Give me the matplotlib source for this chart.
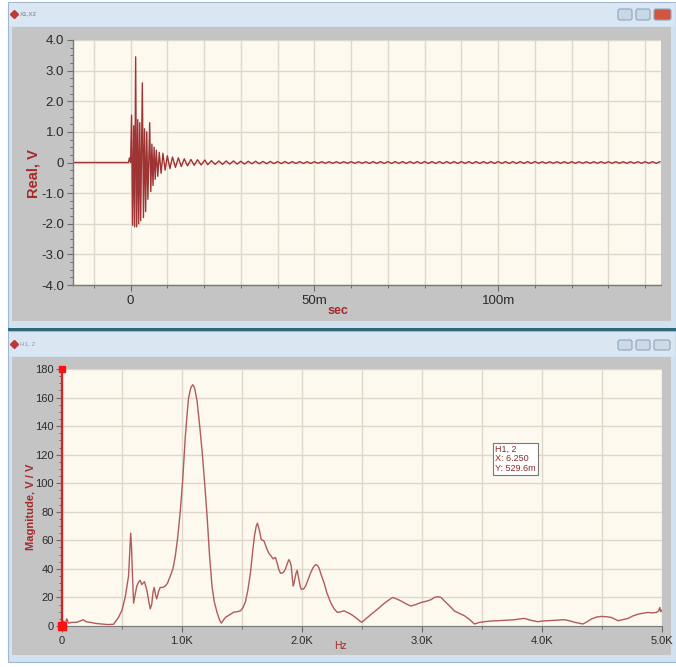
import matplotlib
matplotlib.use("Agg")
import matplotlib.pyplot as plt
from matplotlib.patches import Rectangle, FancyBboxPatch
from matplotlib.ticker import FixedLocator, MultipleLocator

plt.rcParams['font.family'] = ['Liberation Sans', 'DejaVu Sans']

# ---------------- data: top panel (time signal, ms / V) ----------------
burst_t = [-15.8, -0.6, -0.3, 0.0, 0.27, 0.55, 0.85, 1.1, 1.38, 1.65, 1.95, 2.2, 2.5,
           2.75, 3.2, 3.5, 3.8, 4.1, 4.4, 4.7, 5.2, 5.5, 5.8, 6.1, 6.4, 6.7, 7.0, 7.4,
           7.8, 8.3, 8.8, 9.4, 10.0, 10.7, 11.4, 12.2, 13.0, 13.8, 14.6, 15.5, 16.4,
           17.3, 18.2, 19.2, 20.2]
burst_v = [0.0, 0.0, 0.15, 0.0, 1.55, -2.05, 1.2, -2.1, 3.45, -2.1, 1.4, -2.0, 1.3,
           -1.9, 2.6, -1.8, 1.1, -1.6, 1.0, -1.2, 1.3, -0.95, 0.6, -0.75, 0.5, -0.55,
           0.4, -0.45, 0.33, -0.35, 0.3, -0.25, 0.22, -0.2, 0.18, -0.16, 0.15, -0.13,
           0.12, -0.11, 0.1, -0.09, 0.09, -0.08, 0.08]
tail_t0 = 21.0   # ms, tail samples every 1 ms
tail_v = [
    -0.07, 0.06, -0.06, 0.05, -0.06, 0.05, -0.05, 0.05, -0.05, 0.04,
    -0.05, 0.04, -0.04, 0.04, -0.04, 0.035, -0.04, 0.035, -0.035, 0.03,
    -0.035, 0.03, -0.03, 0.03, -0.03, 0.03, -0.03, 0.025, -0.03, 0.025,
    -0.025, 0.025, -0.025, 0.025, -0.025, 0.025, -0.025, 0.025, -0.025, 0.025,
    -0.025, 0.025, -0.025, 0.025, -0.03, 0.03, -0.03, 0.03, -0.03, 0.03,
    -0.03, 0.03, -0.03, 0.03, -0.03, 0.03, -0.03, 0.03, -0.03, 0.03,
    -0.03, 0.03, -0.03, 0.03, -0.03, 0.03, -0.03, 0.03, -0.03, 0.03,
    -0.03, 0.03, -0.03, 0.03, -0.03, 0.03, -0.03, 0.03, -0.03, 0.03,
    -0.03, 0.03, -0.03, 0.03, -0.03, 0.03, -0.03, 0.03, -0.03, 0.03,
    -0.025, 0.025, -0.025, 0.025, -0.025, 0.025, -0.025, 0.025, -0.025, 0.025,
    -0.025, 0.025, -0.025, 0.025, -0.025, 0.025, -0.025, 0.025, -0.025, 0.025,
    -0.025, 0.025, -0.025, 0.025, -0.025, 0.025, -0.025, 0.025, -0.025, 0.025,
    -0.025, 0.025, -0.025, 0.025,
]
top_xticks_ms = [0, 50, 100]
top_xticklabels = ["0", "50m", "100m"]
top_yticks = [4, 3, 2, 1, 0, -1, -2, -3, -4]
top_yticklabels = ["4.0", "3.0", "2.0", "1.0", "0", "-1.0", "-2.0", "-3.0", "-4.0"]

# ---------------- data: bottom panel (spectrum, Hz / V/V) ----------------
freq = [0, 15, 25, 40, 55, 80, 123, 178, 200, 234, 280, 318, 380, 430, 471, 500, 527,
        555, 565, 573, 580, 588, 597, 610, 624, 640, 652, 665, 675, 688, 708, 722, 736,
        748, 760, 769, 780, 790, 805, 819, 840, 861, 880, 903, 925, 945, 965, 987, 1005,
        1028, 1045, 1056, 1075, 1090, 1105, 1126, 1145, 1168, 1190, 1210, 1230, 1251,
        1270, 1293, 1315, 1329, 1345, 1363, 1400, 1433, 1460, 1488, 1510, 1530, 1550,
        1572, 1590, 1605, 1620, 1630, 1640, 1649, 1660, 1669, 1680, 1688, 1700, 1711,
        1725, 1744, 1760, 1780, 1795, 1808, 1822, 1836, 1850, 1864, 1880, 1892, 1902,
        1912, 1920, 1929, 1935, 1942, 1952, 1962, 1970, 1976, 1986, 1996, 2015, 2032,
        2055, 2074, 2095, 2115, 2130, 2143, 2165, 2185, 2210, 2241, 2270, 2297, 2325,
        2352, 2380, 2408, 2440, 2464, 2498, 2520, 2548, 2590, 2632, 2675, 2715, 2757,
        2790, 2826, 2870, 2910, 2950, 2993, 3049, 3080, 3105, 3135, 3161, 3190, 3217,
        3245, 3272, 3310, 3356, 3400, 3440, 3480, 3523, 3580, 3635, 3700, 3774, 3820,
        3858, 3910, 3969, 4010, 4053, 4120, 4192, 4240, 4275, 4345, 4380, 4415, 4460,
        4498, 4540, 4582, 4610, 4638, 4680, 4721, 4760, 4805, 4850, 4889, 4920, 4958,
        4975, 4986, 4993, 5000]
mag = [1.0, 3.5, 1.0, 5.0, 2.0, 2.5, 2.6, 4.4, 3.0, 2.6, 1.8, 1.5, 1.0, 1.2, 6, 11, 20,
       35, 52, 65, 55, 35, 16, 22, 28, 31, 32, 29, 30, 31, 25, 18, 12, 15, 24, 27, 22,
       19, 24, 27, 27, 28, 30, 35, 40, 49, 62, 81, 100, 132, 150, 160, 167, 169, 167,
       158, 143, 123, 100, 77, 50, 28, 17, 9.5, 4, 2, 4, 6, 8, 9.7, 10, 10.6, 13, 17,
       25, 37.5, 52, 63, 70, 72, 69, 66, 61, 60, 60, 59, 56, 53.5, 51, 49, 47, 48, 44,
       39.6, 37, 37, 38, 40, 44, 46.5, 45, 42, 34, 28, 30, 33, 37, 39, 35, 32.6, 28,
       25.7, 26, 28, 33, 37.3, 41, 43, 42.5, 40.8, 35, 30.4, 23, 16.4, 12, 9.5, 10,
       10.6, 9.5, 8.3, 6.5, 4.9, 2.6, 4, 6, 9, 11.8, 15, 17.6, 20, 19, 17.6, 15.5, 14,
       15, 16.4, 17.6, 18.5, 20, 20.5, 20, 17.5, 15.3, 13, 10.6, 9, 7.2, 4.5, 1.4, 2.5,
       3, 3.5, 3.7, 4, 4.4, 5, 5.3, 4, 3, 3.5, 3.7, 4, 4.4, 3.5, 2.6, 1.4, 3, 4.9, 6.3,
       6.7, 6.5, 6, 4.8, 3.7, 4.5, 5.3, 7, 8.3, 9, 9.5, 9.2, 9.5, 10.5, 13, 10, 11]
bot_xticks = [0, 1000, 2000, 3000, 4000, 5000]
bot_xticklabels = ["0", "1.0K", "2.0K", "3.0K", "4.0K", "5.0K"]
bot_yticks = [0, 20, 40, 60, 80, 100, 120, 140, 160, 180]
marker_lines = ["H1, 2", "X: 6.250", "Y: 529.6m"]

# ---------------- figure & chrome ----------------
W, H = 676, 667
fig = plt.figure(figsize=(W / 100, H / 100), dpi=100)
fig.patch.set_facecolor("white")

bg = fig.add_axes([0, 0, 1, 1], zorder=0)
bg.set_xlim(0, W)
bg.set_ylim(H, 0)
bg.axis("off")

def rect(x0, y0, x1, y1, fc, ec="none", lw=0, z=1):
    bg.add_patch(Rectangle((x0, y0), x1 - x0, y1 - y0, facecolor=fc, edgecolor=ec,
                           linewidth=lw, zorder=z))

def button(x0, y0, x1, y1, fc):
    bg.add_patch(FancyBboxPatch((x0, y0), x1 - x0, y1 - y0,
                                boxstyle="round,pad=0,rounding_size=2",
                                facecolor=fc, edgecolor="#8ea6bf", linewidth=0.8, zorder=3))

frame_c = "#d3e2f0"
panel_c = "#c4c4c4"

# top window
rect(8, 2, 676, 329, frame_c, ec="#9fb8cf", lw=0.8)
rect(9, 3, 675, 26, "#dae6f2")
rect(12, 27, 671, 321, panel_c, z=2)
rect(8, 327.5, 676, 330.5, "#2f6878", z=2)
# bottom window
rect(8, 331, 676, 662, frame_c, ec="#9fb8cf", lw=0.8)
rect(9, 332, 675, 356, "#dae6f2")
rect(12, 357, 671, 655, panel_c, z=2)

# title icons and text
for yc in (14, 344):
    bg.plot([14], [yc], marker="D", ms=4, color="#b83a3a", zorder=4)
bg.text(20, 14, "X1,X2", fontsize=4.5, color="#6d7c8a", va="center", ha="left", zorder=4)
bg.text(20, 344, "H1, 2", fontsize=4.5, color="#8d9aa8", va="center", ha="left", zorder=4)

# window buttons
button(618, 9, 632, 20, "#c9d8e7")
button(636, 9, 650, 20, "#c9d8e7")
button(654, 9, 671, 20, "#d4553f")
button(618, 340, 632, 350, "#cdd9e5")
button(636, 340, 650, 350, "#cdd9e5")
button(654, 340, 670, 350, "#cdd9e5")

def axrect(x0, y0, x1, y1):
    return [x0 / W, 1 - y1 / H, (x1 - x0) / W, (y1 - y0) / H]

cream = "#fdf9ee"
gridc = "#ddd8cb"
tickc = "#2a2a2a"
red = "#a52a2a"

# ---------------- top axes ----------------
ax1 = fig.add_axes(axrect(72.5, 40, 661, 285), zorder=5)
ax1.set_facecolor(cream)
t_all = burst_t + [tail_t0 + i for i in range(len(tail_v))]
v_all = burst_v + tail_v
ax1.plot(t_all, v_all, color="#9e3434", lw=1.0)
ax1.set_xlim(-15.8, 144.3)
ax1.set_ylim(-4, 4)
ax1.xaxis.set_major_locator(FixedLocator(top_xticks_ms))
ax1.set_xticklabels(top_xticklabels)
ax1.xaxis.set_minor_locator(MultipleLocator(10))
ax1.set_yticks(top_yticks)
ax1.set_yticklabels(top_yticklabels)
ax1.yaxis.set_minor_locator(MultipleLocator(0.25))
ax1.grid(True, which="major", axis="y", color=gridc, lw=1.0)
ax1.grid(True, which="minor", axis="x", color=gridc, lw=1.0)
ax1.grid(True, which="major", axis="x", color=gridc, lw=1.0)
ax1.set_axisbelow(True)
for s in ("top", "right"):
    ax1.spines[s].set_visible(False)
for s in ("left", "bottom"):
    ax1.spines[s].set_color("#7a7a7a")
    ax1.spines[s].set_linewidth(1.0)
ax1.tick_params(axis="both", which="major", direction="out", length=4, width=0.8,
                color="#6a6a6a", labelsize=9.5, labelcolor=tickc, pad=2)
ax1.tick_params(axis="both", which="minor", direction="out", length=2.5, width=0.7,
                color="#6a6a6a")
ax1.tick_params(axis="x", which="major", pad=3)
fig.text(33 / W, 1 - 174 / H, "Real, V", color=red, fontsize=10.5, fontweight="bold",
         rotation=90, ha="center", va="center", zorder=6)
fig.text(338 / W, 1 - 311 / H, "sec", color=red, fontsize=9, fontweight="bold",
         ha="center", va="center", zorder=6)

# ---------------- bottom axes ----------------
ax2 = fig.add_axes(axrect(62, 369, 661.5, 626), zorder=5)
ax2.set_facecolor(cream)
ax2.plot(freq, mag, color="#b15b5b", lw=1.0)
ax2.set_xlim(0, 5000)
ax2.set_ylim(0, 180)
ax2.set_xticks(bot_xticks)
ax2.set_xticklabels(bot_xticklabels)
ax2.xaxis.set_minor_locator(MultipleLocator(500))
ax2.set_yticks(bot_yticks)
ax2.yaxis.set_minor_locator(MultipleLocator(5))
ax2.grid(True, which="major", color=gridc, lw=1.0)
ax2.grid(True, which="minor", axis="x", color=gridc, lw=1.0)
ax2.set_axisbelow(True)
for s in ("top", "right"):
    ax2.spines[s].set_visible(False)
ax2.spines["bottom"].set_color("#7a7a7a")
ax2.spines["left"].set_color("#e02020")
ax2.spines["left"].set_linewidth(1.6)
ax2.tick_params(axis="both", which="major", direction="out", length=4, width=0.8,
                color="#6a6a6a", labelsize=8, labelcolor=tickc, pad=2)
ax2.tick_params(axis="both", which="minor", direction="out", length=2, width=0.7,
                color="#6a6a6a")
ax2.tick_params(axis="x", which="major", pad=3)
fig.text(31 / W, 1 - 507 / H, "Magnitude, V / V", color=red, fontsize=8,
         fontweight="bold", rotation=90, ha="center", va="center", zorder=6)
fig.text(340 / W, 1 - 646 / H, "Hz", color=red, fontsize=7.5,
         ha="center", va="center", zorder=6)

# cursor markers on the red axis
ax2.plot([0], [180], marker="s", ms=5, color="#ff1010", clip_on=False, zorder=7)
ax2.plot([0], [0], marker="s", ms=6, color="#ff1010", clip_on=False, zorder=7)

# marker readout box
ax2.text(0.723, 0.705, "\n".join(marker_lines), transform=ax2.transAxes,
         fontsize=6.5, color="#8b2a2a", ha="left", va="top", linespacing=1.05,
         bbox=dict(boxstyle="square,pad=0.25", facecolor="white",
                   edgecolor="#777777", lw=0.8), zorder=8)

fig.savefig("out.png", dpi=100, facecolor=fig.get_facecolor())
